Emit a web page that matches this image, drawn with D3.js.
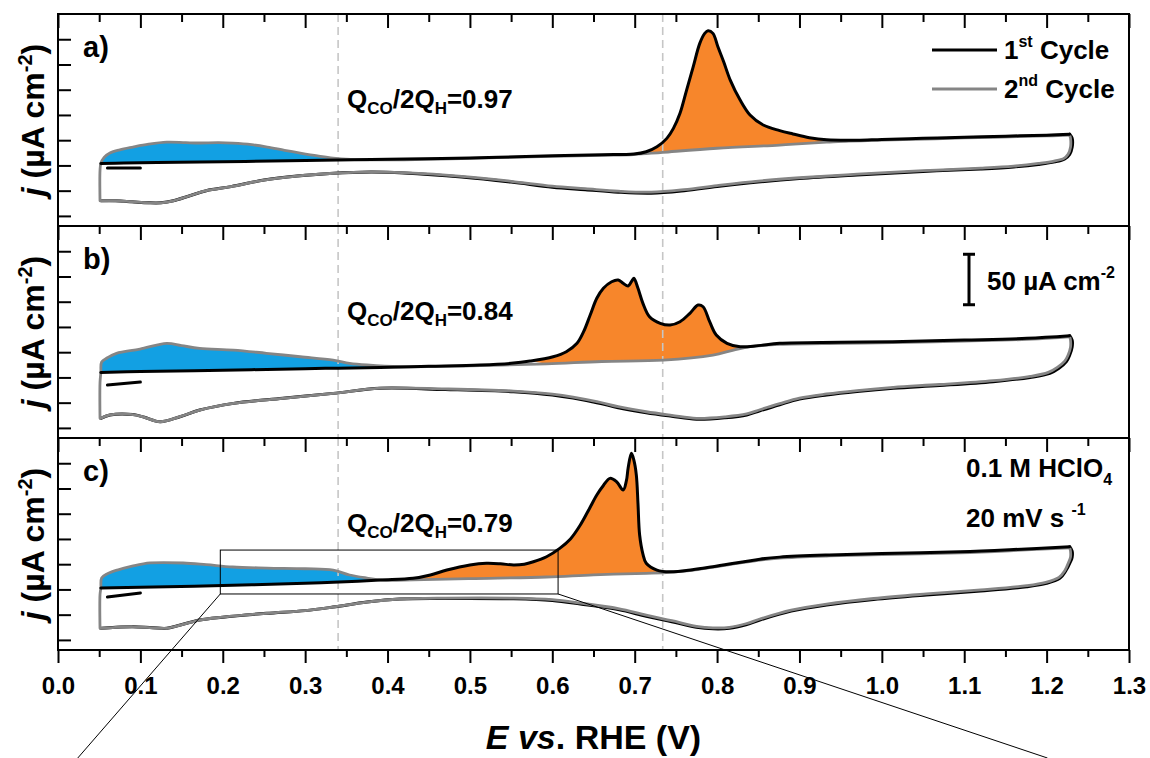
<!DOCTYPE html>
<html>
<head>
<meta charset="utf-8">
<script src="https://cdn.jsdelivr.net/npm/d3@7"></script>
<style>
  body { margin: 0; background: #fff; }
  svg { display: block; }
  text { font-family: "Liberation Sans", Arial, sans-serif; font-weight: bold; fill: #000; }
</style>
</head>
<body>
<svg id="chart" width="1150" height="758"></svg>
<script>
// ---- Cyclic voltammograms: [E (V vs RHE), j (µA cm^-2)] ----

// Panel a
const aBlackStart = [[0.06, -2.5], [0.10, -2.5]];
const aBlackFwd = [[0.052, 2], [0.08, 2.3], [0.12, 2.8], [0.2, 3.6], [0.28, 4.6], [0.34, 5.4], [0.4, 6], [0.5, 7.4], [0.6, 9.5], [0.66, 10.6], [0.699, 11.3], [0.714, 13.6], [0.727, 18.5], [0.739, 26.8], [0.747, 36.7], [0.755, 51.6], [0.763, 74.6], [0.771, 97.7], [0.779, 120.9], [0.785, 130.8], [0.789, 133.4], [0.795, 130.8], [0.801, 117.5], [0.808, 102.7], [0.816, 84.5], [0.828, 64.7], [0.84, 49.9], [0.856, 40], [0.876, 34.5], [0.892, 31.2], [0.912, 27.5], [0.933, 25.4], [0.97, 25], [1.0, 25.8], [1.05, 26.8], [1.1, 28], [1.15, 29], [1.2, 30], [1.228, 31]];
const aBlackRev = [[1.228, 31], [1.231, 27], [1.231, 18], [1.228, 11], [1.222, 6.5], [1.21, 3.5], [1.19, 1], [1.16, -1.5], [1.12, -3.5], [1.05, -6], [0.97, -9.5], [0.9, -13], [0.85, -16.5], [0.8, -21], [0.76, -25], [0.72, -27.5], [0.68, -26.5], [0.64, -24], [0.6, -21.5], [0.55, -16.5], [0.49, -11.5], [0.42, -7.5], [0.38, -6.5], [0.33, -8], [0.29, -10.5], [0.25, -14.5], [0.21, -21], [0.18, -25], [0.16, -30], [0.14, -35], [0.125, -37], [0.11, -37], [0.09, -36], [0.07, -35], [0.052, -35]];
const aGrayFwd = [[0.051, -35], [0.051, -5], [0.052, 2], [0.056, 8], [0.063, 12.3], [0.075, 15.5], [0.091, 18.2], [0.11, 21], [0.132, 23], [0.155, 22.5], [0.172, 22.2], [0.195, 22.5], [0.212, 22], [0.235, 20.5], [0.254, 18.2], [0.275, 15], [0.294, 12.3], [0.315, 9.5], [0.334, 7.3], [0.355, 6], [0.375, 5.6], [0.42, 5.6], [0.5, 7], [0.6, 9], [0.66, 10], [0.699, 10.8], [0.734, 13], [0.8, 17], [0.876, 20.2], [0.933, 23], [0.96, 24.2], [1.0, 25], [1.1, 27.2], [1.2, 29.2], [1.228, 30]];
const aGrayRev = [[1.228, 30], [1.229, 27], [1.229, 18], [1.226, 11], [1.221, 7], [1.209, 4.3], [1.19, 2], [1.16, -0.7], [1.12, -2.7], [1.05, -5.2], [0.97, -8.7], [0.9, -12.2], [0.85, -15.5], [0.8, -20], [0.76, -24], [0.72, -26.5], [0.68, -25.5], [0.64, -23], [0.6, -20.5], [0.55, -15.7], [0.49, -10.8], [0.42, -7.2], [0.38, -6.3], [0.33, -8], [0.29, -10.5], [0.25, -14.5], [0.21, -21], [0.18, -25], [0.16, -30], [0.14, -35], [0.125, -37], [0.11, -37], [0.09, -36], [0.07, -35], [0.052, -35]];

// Panel b
const bBlackStart = [[0.06, -7.5], [0.10, -4.6]];
const bBlackFwd = [[0.052, 5], [0.1, 5.8], [0.2, 7.2], [0.3, 8.6], [0.34, 9.2], [0.391, 9.8], [0.45, 11], [0.512, 12.3], [0.55, 14], [0.573, 16.2], [0.601, 20.5], [0.617, 25.5], [0.63, 33.8], [0.638, 45.3], [0.646, 61.8], [0.654, 78.4], [0.662, 88.3], [0.672, 94.8], [0.68, 96.5], [0.686, 93.2], [0.692, 90.5], [0.696, 94.8], [0.699, 98.2], [0.704, 88.3], [0.71, 73.4], [0.718, 60.1], [0.731, 53.6], [0.743, 51.9], [0.755, 55.2], [0.767, 63.5], [0.777, 71.7], [0.783, 70], [0.791, 55.2], [0.799, 42], [0.812, 33.8], [0.828, 30.4], [0.85, 31.5], [0.876, 33.8], [0.95, 34.8], [1.013, 35.4], [1.1, 37], [1.176, 38.7], [1.228, 41.3]];
const bBlackRev = [[1.228, 41.3], [1.231, 37], [1.231, 30], [1.228, 22], [1.224, 15.6], [1.215, 9], [1.204, 4], [1.18, 0], [1.135, -4.2], [1.07, -8], [1.014, -10.8], [0.97, -14], [0.933, -17.4], [0.9, -21.5], [0.876, -27], [0.852, -33], [0.836, -37.2], [0.81, -40], [0.775, -41.5], [0.745, -38.5], [0.714, -35], [0.68, -30], [0.654, -25], [0.6, -17.5], [0.553, -14.2], [0.47, -12], [0.391, -10.8], [0.334, -15.8], [0.273, -20.7], [0.213, -25.7], [0.172, -32.3], [0.148, -38.9], [0.124, -43.9], [0.105, -39.5], [0.091, -36.8], [0.063, -37.2], [0.052, -40.5]];
const bGrayFwd = [[0.051, -40.5], [0.051, -5], [0.052, 5], [0.053, 15.3], [0.06, 19.5], [0.071, 23.9], [0.0995, 28.1], [0.132, 33.8], [0.15, 31.5], [0.172, 28.8], [0.213, 27.1], [0.253, 23.9], [0.294, 20.5], [0.334, 17.2], [0.354, 14], [0.375, 12.3], [0.415, 10.6], [0.5, 11.5], [0.593, 13.5], [0.66, 15.8], [0.735, 17.2], [0.795, 22.2], [0.82, 27.1], [0.84, 30.5], [0.876, 32.8], [0.95, 33.8], [1.013, 34.4], [1.1, 36], [1.176, 37.7], [1.228, 40.3]];
const bGrayRev = [[1.228, 40.3], [1.229, 37], [1.229, 30], [1.226, 22], [1.222, 16.2], [1.213, 10], [1.202, 5], [1.18, 1], [1.135, -3.2], [1.07, -7], [1.014, -9.8], [0.97, -13], [0.933, -16.4], [0.9, -20.5], [0.876, -26], [0.852, -32], [0.836, -36.2], [0.81, -39], [0.775, -40.5], [0.745, -37.5], [0.714, -34], [0.68, -29], [0.654, -24], [0.6, -16.6], [0.553, -13.5], [0.47, -11.4], [0.391, -10.6], [0.334, -15.8], [0.273, -20.7], [0.213, -25.7], [0.172, -32.3], [0.148, -38.9], [0.124, -43.9], [0.105, -39.5], [0.091, -36.8], [0.063, -37.2], [0.052, -40.5]];

// Panel c
const cBlackStart = [[0.06, -7.5], [0.10, -3.5]];
const cBlackFwd = [[0.052, 1.5], [0.1, 2.2], [0.2, 3.8], [0.3, 6], [0.334, 7], [0.391, 9.3], [0.431, 11], [0.452, 14.3], [0.472, 19.2], [0.5, 24.2], [0.52, 25.9], [0.537, 25.4], [0.553, 24.2], [0.566, 25], [0.577, 27.4], [0.593, 32.4], [0.609, 40.7], [0.622, 50], [0.634, 63.8], [0.645, 80], [0.654, 93.5], [0.662, 103], [0.67, 110], [0.678, 106.7], [0.686, 98.5], [0.69, 108], [0.692, 120], [0.696, 134.8], [0.699, 128], [0.702, 113.3], [0.704, 85], [0.706, 53.9], [0.71, 35], [0.714, 25.9], [0.727, 19.2], [0.743, 17.5], [0.77, 19.5], [0.795, 22.5], [0.852, 30], [0.876, 32], [0.933, 34.1], [1.0, 35.5], [1.095, 37.3], [1.16, 39.5], [1.228, 42.3]];
const cBlackRev = [[1.228, 42.3], [1.231, 38], [1.231, 32], [1.229, 27.4], [1.223, 18], [1.216, 11], [1.2, 6], [1.176, 2.7], [1.12, -1.5], [1.054, -5.5], [0.99, -10], [0.933, -15.5], [0.89, -21.5], [0.852, -30.3], [0.835, -35], [0.815, -38.5], [0.795, -39], [0.775, -37.5], [0.745, -32], [0.714, -26.5], [0.68, -20], [0.634, -14.5], [0.6, -11], [0.553, -9.3], [0.47, -9], [0.415, -9.5], [0.375, -12.5], [0.334, -17.5], [0.3, -21], [0.253, -23.7], [0.2, -27.5], [0.172, -30.3], [0.145, -36], [0.132, -38.5], [0.115, -38], [0.091, -37], [0.07, -37.5], [0.052, -38.5]];
const cGrayFwd = [[0.051, -38.5], [0.051, -5], [0.052, 1.5], [0.053, 11.3], [0.06, 15.5], [0.072, 19.2], [0.09, 23], [0.112, 26.2], [0.152, 26.2], [0.18, 24.5], [0.212, 22.2], [0.254, 21.2], [0.3, 20.5], [0.334, 19.2], [0.354, 14.3], [0.375, 11.3], [0.394, 9.3], [0.431, 9.5], [0.5, 10.8], [0.593, 12.3], [0.65, 14.5], [0.714, 16], [0.743, 17], [0.77, 19], [0.795, 22], [0.852, 29], [0.876, 31], [0.933, 33.1], [1.0, 34.5], [1.095, 36.3], [1.16, 38.5], [1.228, 41.3]];
const cGrayRev = [[1.228, 41.3], [1.229, 38], [1.229, 32], [1.227, 27.4], [1.222, 18.5], [1.215, 12], [1.199, 7], [1.176, 3.7], [1.12, -0.5], [1.054, -4.5], [0.99, -9], [0.933, -14.5], [0.89, -20.5], [0.852, -29.3], [0.835, -34], [0.815, -37.5], [0.795, -38], [0.775, -36.5], [0.745, -31], [0.714, -25.5], [0.68, -19], [0.634, -13.5], [0.6, -10.2], [0.553, -8.7], [0.47, -8.6], [0.415, -9.5], [0.375, -12.5], [0.334, -17.5], [0.3, -21], [0.253, -23.7], [0.2, -27.5], [0.172, -30.3], [0.145, -36], [0.132, -38.5], [0.115, -38], [0.091, -37], [0.07, -37.5], [0.052, -38.5]];

// Charge ratios, shaded potential windows, labels
const panelLetters = ["a)", "b)", "c)"];
const ratioValues = ["0.97", "0.84", "0.79"];
const hWindows = [[0.05, 0.42], [0.05, 0.43], [0.05, 0.40]];
const coWindows = [[0.68, 0.96], [0.57, 0.84], [0.40, 0.745]];
const guideE = [0.340, 0.734];
const xTickMajor = d3.range(0, 1.3001, 0.1);
const xTickMinor = d3.range(0.05, 1.3, 0.1);
const yTickValues = [-50, -25, 0, 25, 50, 75, 100, 125];
const scaleBarRange = [72, 122];          // 50 µA cm^-2 bar, panel b units
const zoomBoxE = [0.197, 0.607];          // inset region in panel c
const zoomBoxJ = [-4.5, 39];
const zoomLeadE = [0.024, 1.201];         // where the inset leaders leave the figure

const panels = [
  { blackStart: aBlackStart, blackFwd: aBlackFwd, blackRev: aBlackRev, grayFwd: aGrayFwd, grayRev: aGrayRev },
  { blackStart: bBlackStart, blackFwd: bBlackFwd, blackRev: bBlackRev, grayFwd: bGrayFwd, grayRev: bGrayRev },
  { blackStart: cBlackStart, blackFwd: cBlackFwd, blackRev: cBlackRev, grayFwd: cGrayFwd, grayRev: cGrayRev }
];

// ---- Layout ----
const W = 1150, H = 758;
const plotL = 58, plotR = 1129;
const panelTop = [14, 226, 438];
const panelH = 212;
const BLUE = "#12a0e3", ORANGE = "#f7862b", GRAY = "#858585";

const svg = d3.select("#chart");
const x = d3.scaleLinear().domain([0, 1.3]).range([plotL, plotR]);

const curve = d3.curveCatmullRom.alpha(0.5);

panels.forEach((p, i) => {
  const top = panelTop[i];
  const y = d3.scaleLinear().domain([-60, 150]).range([top + panelH, top]);
  const line = d3.line().x(d => x(d[0])).y(d => y(d[1])).curve(curve);
  const g = svg.append("g");

  // Hydrogen desorption region: between 2nd-cycle and 1st-cycle anodic scans
  const [h0, h1] = hWindows[i];
  const hTop = p.grayFwd.slice(2).filter(d => d[0] <= h1);
  const hBot = p.blackFwd.filter(d => d[0] <= h1).reverse();
  g.append("path").attr("d", line(hTop.concat(hBot)) + "Z").attr("fill", BLUE);

  // CO stripping region
  const [c0, c1] = coWindows[i];
  const cTop = p.blackFwd.filter(d => d[0] >= c0 && d[0] <= c1);
  const cBot = p.grayFwd.filter(d => d[0] >= c0 && d[0] <= c1 && d[1] > -1).reverse();
  g.append("path").attr("d", line(cTop.concat(cBot)) + "Z").attr("fill", ORANGE);

  // guide lines
  guideE.forEach(e => {
    g.append("line").attr("x1", x(e)).attr("x2", x(e))
      .attr("y1", top).attr("y2", top + panelH)
      .attr("stroke", "#c6c6c6").attr("stroke-width", 1.6).attr("stroke-dasharray", "8,5");
  });

  // 1st cycle (black) then 2nd cycle (gray)
  const stroke = (data, color, w) => g.append("path").attr("d", line(data))
    .attr("fill", "none").attr("stroke", color).attr("stroke-width", w)
    .attr("stroke-linejoin", "round").attr("stroke-linecap", "round");
  stroke(p.blackStart, "#000", 3);
  stroke(p.blackRev, "#000", 3);
  stroke(p.grayRev, GRAY, 2.8);
  stroke(p.grayFwd, GRAY, 2.8);
  stroke(p.blackFwd, "#000", 3);

  // ticks: top (inward) and left (inward)
  const tMaj = d3.axisBottom(x).tickValues(xTickMajor).tickSize(14).tickFormat("");
  const tMin = d3.axisBottom(x).tickValues(xTickMinor).tickSize(8).tickFormat("");
  [tMaj, tMin].forEach(ax => {
    const a = g.append("g").attr("transform", `translate(0,${top})`).call(ax);
    a.select(".domain").remove();
    a.selectAll("line").attr("stroke", "#000").attr("stroke-width", 2);
  });
  const yAx = g.append("g").attr("transform", `translate(${plotL},0)`)
    .call(d3.axisRight(y).tickValues(yTickValues).tickSize(13).tickFormat(""));
  yAx.select(".domain").remove();
  yAx.selectAll("line").attr("stroke", "#000").attr("stroke-width", 2);

  // frame
  g.append("rect").attr("x", plotL).attr("y", top).attr("width", plotR - plotL).attr("height", panelH)
    .attr("fill", "none").attr("stroke", "#000").attr("stroke-width", 2);

  // panel letter
  g.append("text").attr("x", 83).attr("y", top + 43).attr("font-size", 29).text(panelLetters[i]);

  // charge ratio
  const q = g.append("text").attr("x", 347).attr("y", top + 94).attr("font-size", 26);
  q.append("tspan").text("Q");
  q.append("tspan").attr("font-size", 17).attr("dy", 6).text("CO");
  q.append("tspan").attr("dy", -6).text("/2Q");
  q.append("tspan").attr("font-size", 17).attr("dy", 6).text("H");
  q.append("tspan").attr("dy", -6).text("=" + ratioValues[i]);

  // y-axis title
  const yl = g.append("text")
    .attr("transform", `translate(44,${top + panelH / 2}) rotate(-90)`)
    .attr("text-anchor", "middle").attr("font-size", 32);
  yl.append("tspan").attr("font-style", "italic").text("j");
  yl.append("tspan").text(" (µA cm");
  yl.append("tspan").attr("font-size", 20).attr("dy", -12).text("-2");
  yl.append("tspan").attr("dy", 12).text(")");

  if (i === 1) {
    // scale bar
    const sx = 969;
    const [s0, s1] = scaleBarRange;
    g.append("line").attr("x1", sx).attr("x2", sx).attr("y1", y(s0)).attr("y2", y(s1))
      .attr("stroke", "#000").attr("stroke-width", 3);
    [s0, s1].forEach(v => g.append("line").attr("x1", sx - 6).attr("x2", sx + 6)
      .attr("y1", y(v)).attr("y2", y(v)).attr("stroke", "#000").attr("stroke-width", 3));
    const st = g.append("text").attr("x", 987).attr("y", 290).attr("font-size", 26);
    st.append("tspan").text("50 µA cm");
    st.append("tspan").attr("font-size", 16).attr("dy", -12).text("-2");
  }

  if (i === 2) {
    const t1 = g.append("text").attr("x", 966).attr("y", 477).attr("font-size", 26);
    t1.append("tspan").text("0.1 M HClO");
    t1.append("tspan").attr("font-size", 16).attr("dy", 8).text("4");
    const t2 = g.append("text").attr("x", 966).attr("y", 527).attr("font-size", 26);
    t2.append("tspan").text("20 mV s ");
    t2.append("tspan").attr("font-size", 16).attr("dy", -12).text("-1");

    // inset box and leader lines
    const bx0 = x(zoomBoxE[0]), bx1 = x(zoomBoxE[1]);
    const by0 = y(zoomBoxJ[1]), by1 = y(zoomBoxJ[0]);
    g.append("rect").attr("x", bx0).attr("y", by0).attr("width", bx1 - bx0).attr("height", by1 - by0)
      .attr("fill", "none").attr("stroke", "#000").attr("stroke-width", 1);
    g.append("line").attr("x1", bx0).attr("y1", by1).attr("x2", x(zoomLeadE[0])).attr("y2", H)
      .attr("stroke", "#000").attr("stroke-width", 1);
    g.append("line").attr("x1", bx1).attr("y1", by1).attr("x2", x(zoomLeadE[1])).attr("y2", H)
      .attr("stroke", "#000").attr("stroke-width", 1);
  }
});

// bottom x axis
const xBottom = panelTop[2] + panelH;
const xMaj = svg.append("g").attr("transform", `translate(0,${xBottom})`)
  .call(d3.axisBottom(x).tickValues(xTickMajor).tickSize(13).tickPadding(14).tickFormat(d3.format(".1f")));
xMaj.select(".domain").remove();
xMaj.selectAll("line").attr("stroke", "#000").attr("stroke-width", 2);
xMaj.selectAll("text").attr("font-size", 24).attr("fill", "#000")
  .style("font-family", '"Liberation Sans", Arial, sans-serif').style("font-weight", "bold");
const xMin = svg.append("g").attr("transform", `translate(0,${xBottom})`)
  .call(d3.axisBottom(x).tickValues(xTickMinor).tickSize(7).tickFormat(""));
xMin.select(".domain").remove();
xMin.selectAll("line").attr("stroke", "#000").attr("stroke-width", 2);

// x-axis title
const xt = svg.append("text").attr("x", (plotL + plotR) / 2).attr("y", 749)
  .attr("text-anchor", "middle").attr("font-size", 34);
xt.append("tspan").attr("font-style", "italic").text("E vs");
xt.append("tspan").text(". RHE (V)");

// legend
const legend = [["1", "st", "#000", 50, 59], ["2", "nd", GRAY, 89, 98]];
legend.forEach(([n, sup, col, ly, ty]) => {
  svg.append("line").attr("x1", 932).attr("x2", 997).attr("y1", ly).attr("y2", ly)
    .attr("stroke", col).attr("stroke-width", 3);
  const t = svg.append("text").attr("x", 1004).attr("y", ty).attr("font-size", 26);
  t.append("tspan").text(n);
  t.append("tspan").attr("font-size", 16).attr("dy", -12).text(sup);
  t.append("tspan").attr("dy", 12).text(" Cycle");
});
</script>
</body>
</html>
